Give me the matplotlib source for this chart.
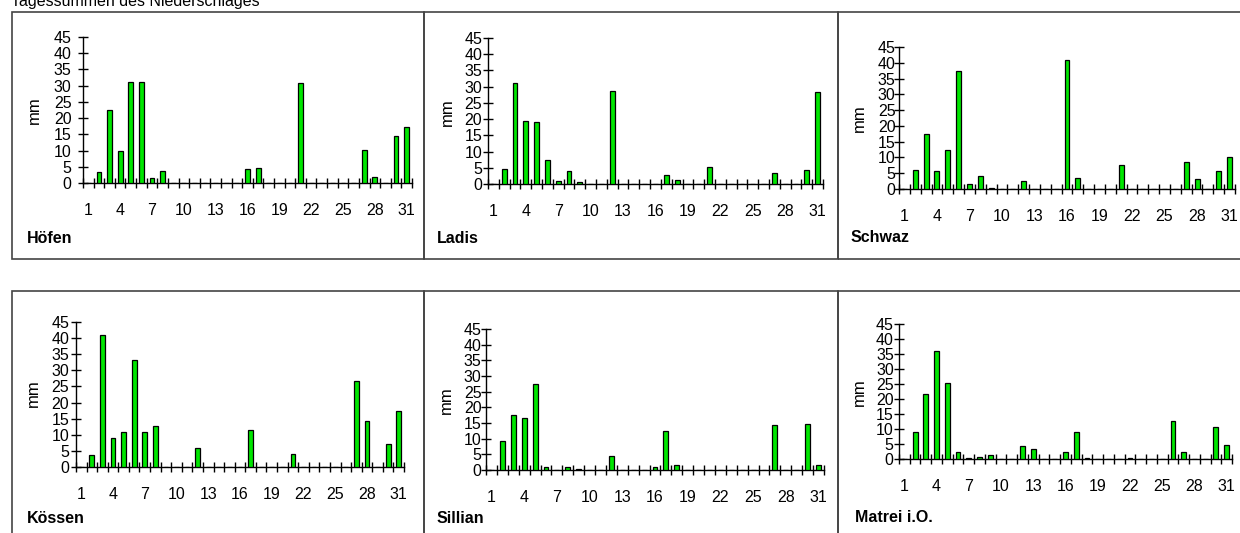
import matplotlib.pyplot as plt
import numpy as np
from matplotlib.patches import Rectangle

plt.rcParams['font.family'] = ['Liberation Sans', 'DejaVu Sans']

W, H = 1240, 533
fig = plt.figure(figsize=(W / 100, H / 100), dpi=100)

days = np.arange(1, 32)
day_labels = [1, 4, 7, 10, 13, 16, 19, 22, 25, 28, 31]
y_ticks = [0, 5, 10, 15, 20, 25, 30, 35, 40, 45]

# daily precipitation sums (mm), days without value = 0
hoefen = {2: 3.5, 3: 22.5, 4: 9.8, 5: 31.2, 6: 31.2, 7: 1.4, 8: 3.8, 16: 4.2,
          17: 4.6, 21: 30.7, 27: 10.1, 28: 1.8, 30: 14.5, 31: 17.3}
ladis = {2: 4.6, 3: 31.1, 4: 19.5, 5: 19.0, 6: 7.4, 7: 0.8, 8: 3.9, 9: 0.5,
         12: 28.8, 17: 2.8, 18: 1.1, 21: 5.1, 27: 3.5, 30: 4.2, 31: 28.3}
schwaz = {2: 6.1, 3: 17.5, 4: 5.7, 5: 12.5, 6: 37.5, 7: 1.6, 8: 4.1, 9: 0.4,
          12: 2.4, 16: 40.9, 17: 3.4, 21: 7.5, 27: 8.7, 28: 3.3, 30: 5.8, 31: 10.0}
koessen = {2: 3.6, 3: 41.1, 4: 9.1, 5: 10.8, 6: 33.1, 7: 10.8, 8: 12.8, 12: 5.9,
           17: 11.5, 21: 4.0, 27: 26.8, 28: 14.3, 30: 7.2, 31: 17.5}
sillian = {2: 9.2, 3: 17.4, 4: 16.6, 5: 27.6, 6: 0.9, 8: 1.1, 9: 0.4, 12: 4.6,
           16: 0.9, 17: 12.5, 18: 1.6, 27: 14.3, 30: 14.6, 31: 1.6}
matrei = {2: 9.0, 3: 21.7, 4: 36.0, 5: 25.2, 6: 2.4, 7: 0.4, 8: 0.8, 9: 1.2,
          12: 4.2, 13: 3.3, 16: 2.4, 17: 9.0, 18: 0.3, 22: 0.3, 26: 12.7,
          27: 2.4, 30: 10.6, 31: 4.6}

stations = ['Höfen', 'Ladis', 'Schwaz', 'Kössen', 'Sillian', 'Matrei i.O.']
series = [hoefen, ladis, schwaz, koessen, sillian, matrei]

# pixel layout: axis x0, x1, y(0), y(45), label pad, name pos, mm pos
layout = [
    (83, 412, 183, 37, 4.8, (27, 243), (34, 110)),
    (488, 823, 184, 38, 0.6, (437, 243), (447, 112)),
    (899, 1235, 189, 47, -1.0, (851, 242), (859, 118)),
    (76, 404, 467, 322, 1.3, (27, 523), (33, 393)),
    (486, 824, 470, 329, -0.3, (437, 523), (446, 400)),
    (899, 1232, 459, 324, 0.3, (855, 522), (859, 392)),
]

def fx(px):
    return px / W

def fy(py):
    return 1 - py / H

# panel frames
for x0, x1, y0, y1 in [(12, 423.5, 12, 259), (423.5, 837.5, 12, 259), (837.5, 1250, 12, 259),
                       (12, 423.5, 291, 545), (423.5, 837.5, 291, 545), (837.5, 1250, 291, 545)]:
    fig.patches.append(Rectangle((fx(x0), fy(y1)), fx(x1) - fx(x0), fy(y0) - fy(y1),
                                 transform=fig.transFigure, fill=False,
                                 edgecolor='#444444', linewidth=1.2))

fig.text(fx(11), fy(6), 'Tagessummen des Niederschlages', fontsize=11.5,
         ha='left', va='baseline')

for name, data, (x0, x1, y0, y45, pad, npos, mpos) in zip(stations, series, layout):
    ax = fig.add_axes([fx(x0), fy(y0), fx(x1) - fx(x0), fy(y45) - fy(y0)])
    vals = [data.get(d, 0) for d in days]
    ax.bar(days, vals, width=0.45, color='#00e600', edgecolor='black', linewidth=0.9, zorder=3)
    ax.set_xlim(0.5, 31.5)
    ax.set_ylim(0, 45)
    ax.patch.set_visible(False)
    for s in ['top', 'right']:
        ax.spines[s].set_visible(False)
    ax.spines['left'].set_linewidth(1.0)
    ax.spines['bottom'].set_linewidth(1.0)
    ax.set_yticks(y_ticks)
    ax.tick_params(axis='y', direction='inout', length=7, width=1.0, pad=pad,
                   labelsize=11.5)
    ax.set_xticks(np.arange(0.5, 32, 1))
    ax.set_xticklabels([])
    ax.tick_params(axis='x', which='major', direction='inout', length=7, width=1.0)
    ax.set_xticks(day_labels, minor=True)
    ax.set_xticklabels([str(d) for d in day_labels], minor=True)
    ax.tick_params(axis='x', which='minor', length=0, pad=14.5, labelsize=11.5)
    fig.text(fx(mpos[0]), fy(mpos[1]), 'mm', rotation=90, fontsize=12,
             ha='center', va='center')
    fig.text(fx(npos[0]), fy(npos[1]), name, fontsize=11.5, fontweight='bold',
             ha='left', va='baseline')

fig.savefig('out.png', dpi=100)
